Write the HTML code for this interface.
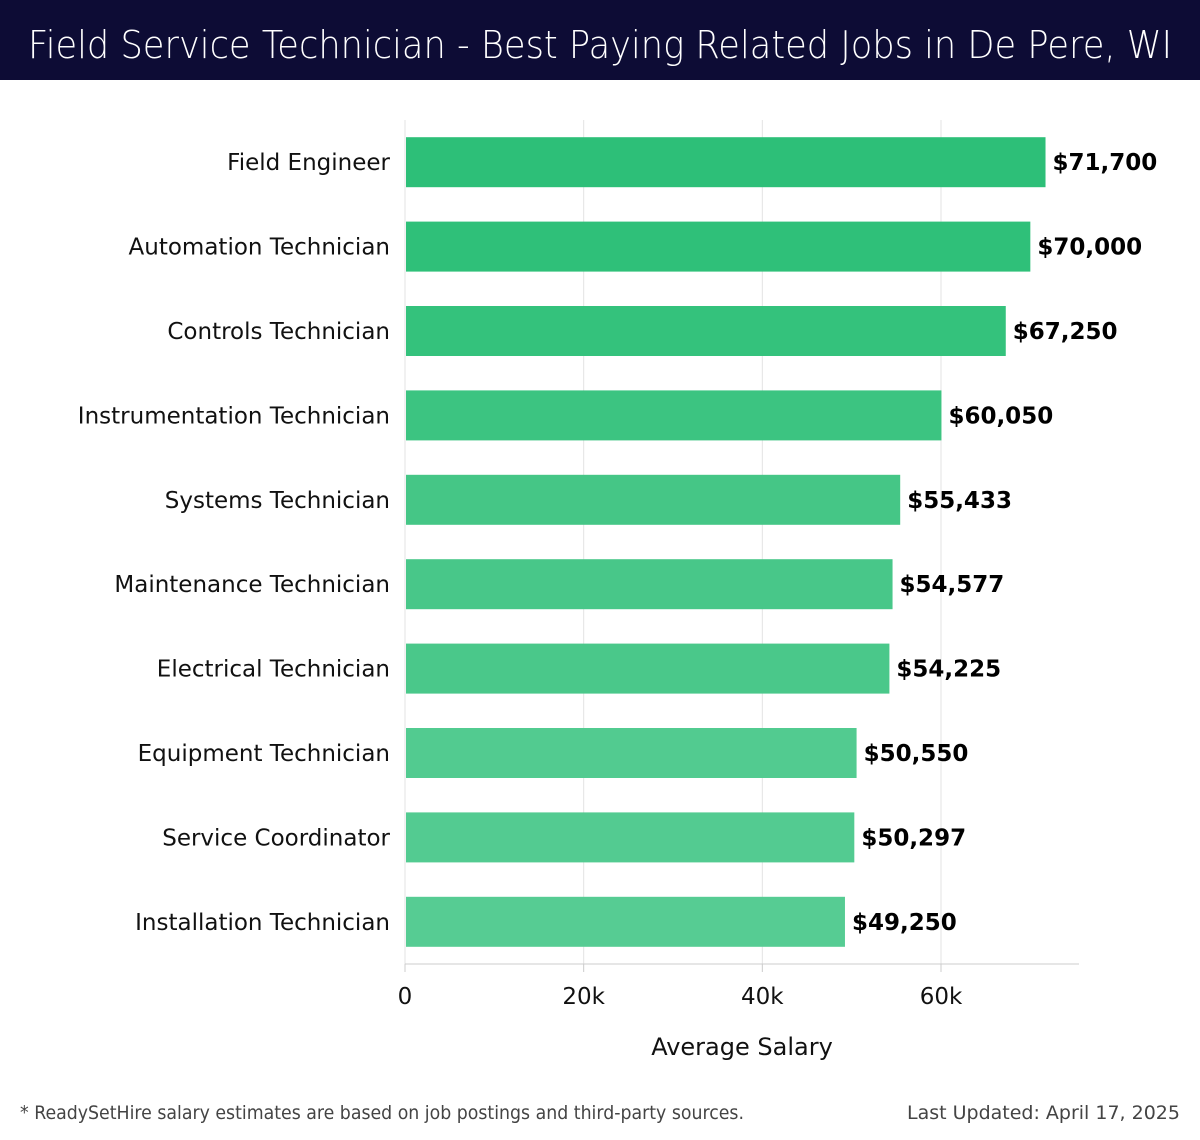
<!DOCTYPE html>
<html><head><meta charset="utf-8"><style>
body{margin:0;background:#fff;font-family:"Liberation Sans","DejaVu Sans",sans-serif}
svg{display:block}
</style></head><body>
<svg id="chart" width="1200" height="1140" viewBox="0 0 1200 1140" xmlns="http://www.w3.org/2000/svg">
<rect x="0" y="0" width="1200" height="80" fill="#0d0c35"/>
<text x="28" y="58" fill="#fff" font-size="38" textLength="1144" lengthAdjust="spacingAndGlyphs" font-family="DejaVu Sans, sans-serif" font-weight="300">Field Service Technician - Best Paying Related Jobs in De Pere, WI</text>
<g id="grid"></g>
<g id="bars"></g>
<g id="axis"></g>
<text x="742" y="1055" text-anchor="middle" font-size="24" fill="#111" font-family="DejaVu Sans, sans-serif">Average Salary</text>
<text x="20" y="1119" font-size="19" fill="#444" font-family="DejaVu Sans, sans-serif" textLength="724" lengthAdjust="spacingAndGlyphs">* ReadySetHire salary estimates are based on job postings and third-party sources.</text>
<text x="1180" y="1119" text-anchor="end" font-size="19" fill="#444" font-family="DejaVu Sans, sans-serif">Last Updated: April 17, 2025</text>
</svg>
<script>
const categories=["Field Engineer","Automation Technician","Controls Technician","Instrumentation Technician","Systems Technician","Maintenance Technician","Electrical Technician","Equipment Technician","Service Coordinator","Installation Technician"];
const salaries=[71700,70000,67250,60050,55433,54577,54225,50550,50297,49250];
const valueLabels=["$71,700","$70,000","$67,250","$60,050","$55,433","$54,577","$54,225","$50,550","$50,297","$49,250"];
const ticks=[0,20000,40000,60000];
const tickLabels=["0","20k","40k","60k"];
const colors=["#2dbf78","#2fc079","#34c27c","#3cc481","#45c686","#48c789","#4ac88a","#52cb90","#53cb91","#56cc93"];
const NS="http://www.w3.org/2000/svg";
const x0=405,pxPerUnit=(941-405)/60000,xEnd=1079,yTop=120,yBottom=964;
const band=(yBottom-yTop)/categories.length,barH=50;
const xs=v=>x0+v*pxPerUnit;
const yc=i=>yTop+band*(i+0.5);
function mk(tag,attrs,parent){const e=document.createElementNS(NS,tag);for(const k in attrs)e.setAttribute(k,attrs[k]);parent.appendChild(e);return e;}
const grid=document.getElementById('grid'),bars=document.getElementById('bars'),axis=document.getElementById('axis');
ticks.forEach((t,i)=>{
  const g=mk('line',{x1:xs(t),x2:xs(t),y1:yTop,y2:yBottom,stroke:'#e3e3e3','stroke-width':1},grid);
  
  
  const tk=mk('line',{x1:xs(t),x2:xs(t),y1:yBottom,y2:yBottom+8,stroke:'#ccc','stroke-width':1},axis);
  
  
  const tl=mk('text',{x:xs(t),y:1004,'text-anchor':'middle','font-size':23,fill:'#111','font-family':'DejaVu Sans, sans-serif'},axis);
  tl.textContent=tickLabels[i];
  
  
});
const al=mk('line',{x1:x0,x2:xEnd,y1:yBottom,y2:yBottom,stroke:'#ccc','stroke-width':1},axis);


categories.forEach((c,i)=>{
  const y=yc(i);
  const r=mk('rect',{x:x0+1,y:y-barH/2,width:xs(salaries[i])-x0-1,height:barH,fill:colors[i]},bars);
  
  
  const l=mk('text',{x:390,y:y+8,'text-anchor':'end','font-size':23,fill:'#111','font-family':'DejaVu Sans, sans-serif'},bars);
  l.textContent=c;
  
  
  const v=mk('text',{x:xs(salaries[i])+7,y:y+8,'font-size':23,'font-weight':'bold',fill:'#000','font-family':'DejaVu Sans, sans-serif'},bars);
  v.textContent=valueLabels[i];
  
  
});
</script>
</body></html>
